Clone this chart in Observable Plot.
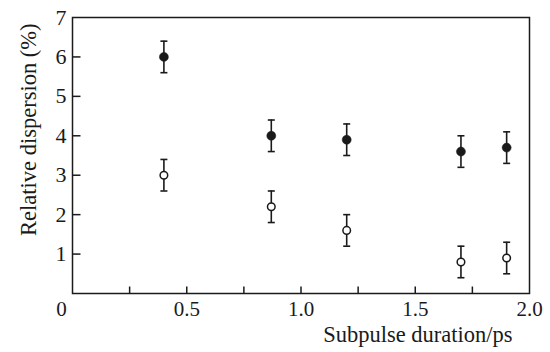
<!DOCTYPE html>
<html><head><meta charset="utf-8">
<script src="https://cdn.jsdelivr.net/npm/d3@7"></script>
<script src="https://cdn.jsdelivr.net/npm/@observablehq/plot@0.6"></script>
<style>body{margin:0;background:#fff}</style>
</head><body><div id="chart"></div>
<script>
const durations = [0.40, 0.87, 1.20, 1.70, 1.90];
const filledValues = [6.0, 4.0, 3.9, 3.6, 3.7];
const filledErrors = [0.4, 0.4, 0.4, 0.4, 0.4];
const openValues = [3.0, 2.2, 1.6, 0.8, 0.9];
const openErrors = [0.4, 0.4, 0.4, 0.4, 0.4];
const xTickLabels = [0.5, 1.0, 1.5, 2.0];
const xMinorTicks = [0.25, 0.5, 0.75, 1.0, 1.25, 1.5, 1.75];
const yTicks = [1, 2, 3, 4, 5, 6, 7];
const xTitle = "Subpulse duration/ps";
const yTitle = "Relative dispersion (%)";

const ink = "#1a1a1a";
const rows = [
  ...durations.map((x, i) => ({x, y: filledValues[i], e: filledErrors[i], kind: "filled"})),
  ...durations.map((x, i) => ({x, y: openValues[i], e: openErrors[i], kind: "open"}))
];
const capSymbol = {draw(ctx) { ctx.moveTo(-3.5, 0); ctx.lineTo(3.5, 0); }};
const yTickSymbol = {draw(ctx) { ctx.moveTo(0, 0); ctx.lineTo(8, 0); }};
const xTickSymbol = {draw(ctx) { ctx.moveTo(0, 0); ctx.lineTo(0, -7); }};

const chart = Plot.plot({
  width: 550, height: 352,
  marginLeft: 72, marginTop: 17, marginRight: 21, marginBottom: 59,
  style: {fontFamily: "'Liberation Serif', 'Times New Roman', serif", fontSize: "22px", background: "#fff", color: ink},
  x: {domain: [0, 2]},
  y: {domain: [0, 7]},
  marks: [
    Plot.frame({stroke: ink, strokeWidth: 1.5}),
    Plot.axisY({ticks: yTicks, tickSize: 0, tickPadding: 6, label: null, tickFormat: d => String(d)}),
    Plot.axisX({ticks: xTickLabels, tickSize: 0, tickPadding: 8, label: null, fontSize: 21, tickFormat: d => d.toFixed(1)}),
    Plot.axisX({ticks: [0], tickSize: 0, tickPadding: 8, label: null, fontSize: 21, dx: -11, tickFormat: d => "0"}),
    Plot.dot(yTicks.slice(0, 6), {x: () => 0, y: d => d, symbol: yTickSymbol, stroke: ink, strokeWidth: 1.5, r: 4}),
    Plot.dot(xMinorTicks, {x: d => d, y: () => 0, symbol: xTickSymbol, stroke: ink, strokeWidth: 1.5, r: 4}),
    Plot.ruleX(rows, {x: "x", y1: d => d.y - d.e, y2: d => d.y + d.e, stroke: ink, strokeWidth: 1.6}),
    Plot.dot(rows, {x: "x", y: d => d.y + d.e, symbol: capSymbol, stroke: ink, strokeWidth: 1.6, r: 4}),
    Plot.dot(rows, {x: "x", y: d => d.y - d.e, symbol: capSymbol, stroke: ink, strokeWidth: 1.6, r: 4}),
    Plot.dot(rows.filter(d => d.kind === "filled"), {x: "x", y: "y", r: 4.5, fill: ink, stroke: ink, strokeWidth: 0.5}),
    Plot.dot(rows.filter(d => d.kind === "open"), {x: "x", y: "y", r: 3.8, fill: "#fff", stroke: ink, strokeWidth: 1.5}),
    Plot.text([xTitle], {frameAnchor: "bottom-right", text: d => d, textAnchor: "end", dx: -17, dy: 48, fill: ink, fontSize: 22.5}),
    Plot.text([yTitle], {frameAnchor: "top-left", text: d => d, rotate: -90, textAnchor: "end", lineAnchor: "middle", dx: -44, dy: 6, fill: ink, fontSize: 22.5})
  ]
});
document.getElementById("chart").appendChild(chart);
</script>
</body></html>
